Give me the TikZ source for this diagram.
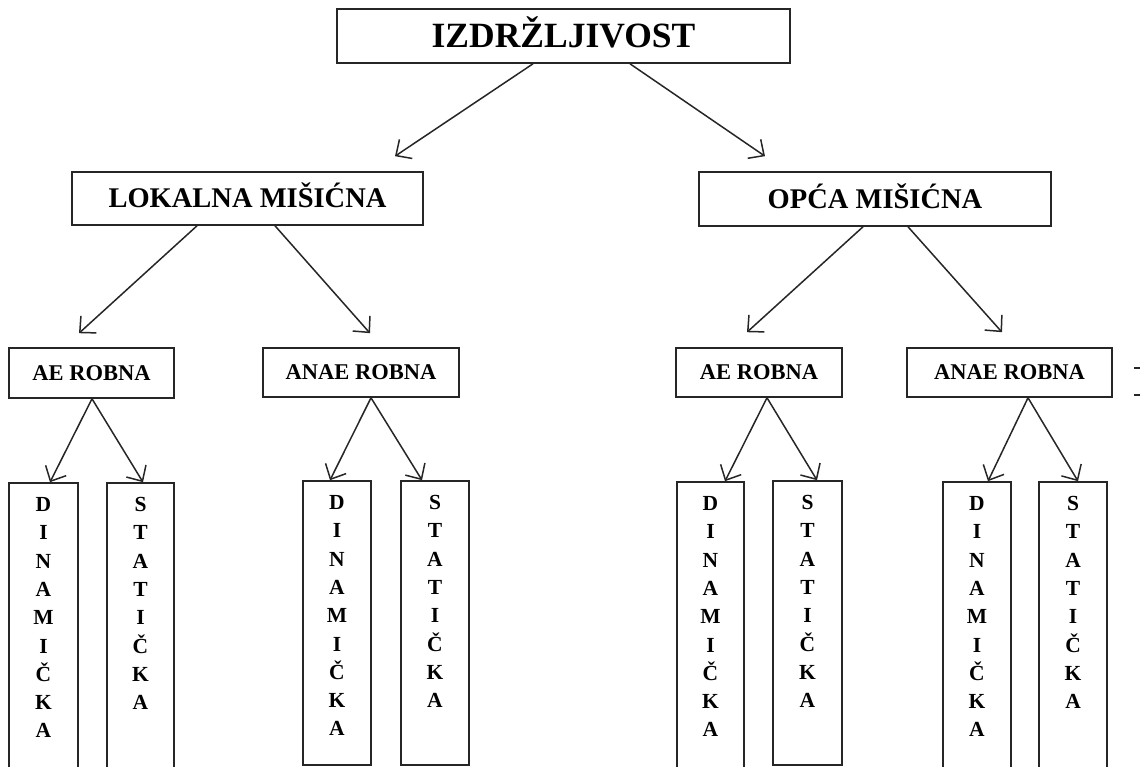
\documentclass[tikz,border=0pt]{standalone}
\usepackage{fontspec}
\setmainfont{Liberation Serif}
\usetikzlibrary{arrows.meta}
\newcommand\vcol[2]{\parbox[c][#1][t]{60pt}{\centering\fontsize{21.5}{28.3}\selectfont\bfseries\rule{0pt}{28.5pt}#2}}
\begin{document}
\begin{tikzpicture}[x=1pt,y=-1pt,
  box/.style={draw=black!85, line width=1.6pt, inner sep=0pt, text depth=0pt},
  bigf/.style={font=\fontsize{35.5}{40}\selectfont\bfseries, text height=23.5pt},
  midf/.style={font=\fontsize{28.5}{32}\selectfont\bfseries, text height=18.9pt},
  smlf/.style={font=\fontsize{22.5}{26}\selectfont\bfseries, text height=14.9pt},
  vbox/.style={draw=black!85, line width=1.6pt, inner sep=0pt},
  arr/.style={-{Straight Barb[length=12pt,width=23pt,line width=1.5pt]}, line width=1.5pt, draw=black!85},
  edgetick/.style={line width=1.4pt, draw=black!85}
]
\useasboundingbox (0,0) rectangle (1140,767);

\node[box,bigf,minimum width=453pt,minimum height=54pt] (top) at (563.5,36) {IZDRŽLJIVOST};
\node[box,midf,minimum width=351pt,minimum height=53pt] (lok) at (247.5,198.5) {LOKALNA MIŠIĆNA};
\node[box,midf,minimum width=352pt,minimum height=54pt] (opc) at (875,199) {OPĆA MIŠIĆNA};

\node[box,smlf,minimum width=165pt,minimum height=50pt] (ae1) at (91.5,373) {AE ROBNA};
\node[box,smlf,minimum width=196pt,minimum height=49pt] (an1) at (361,372.5) {ANAE ROBNA};
\node[box,smlf,minimum width=166pt,minimum height=49pt] (ae2) at (759,372.5) {AE ROBNA};
\node[box,smlf,minimum width=205pt,minimum height=49pt] (an2) at (1009.5,372.5) {ANAE ROBNA};

\node[vbox,minimum width=69pt] (d1) at (43.5,626) {\vcol{286pt}{D\\I\\N\\A\\M\\I\\Č\\K\\A}};
\node[vbox,minimum width=67pt] (s1) at (140.5,626) {\vcol{286pt}{S\\T\\A\\T\\I\\Č\\K\\A}};
\node[vbox,minimum width=68pt] (d2) at (337,623) {\vcol{284pt}{D\\I\\N\\A\\M\\I\\Č\\K\\A}};
\node[vbox,minimum width=68pt] (s2) at (435,623) {\vcol{284pt}{S\\T\\A\\T\\I\\Č\\K\\A}};
\node[vbox,minimum width=67pt] (d3) at (710.5,625.5) {\vcol{287pt}{D\\I\\N\\A\\M\\I\\Č\\K\\A}};
\node[vbox,minimum width=69pt] (s3) at (807.5,623) {\vcol{284pt}{S\\T\\A\\T\\I\\Č\\K\\A}};
\node[vbox,minimum width=68pt] (d4) at (977,625.5) {\vcol{287pt}{D\\I\\N\\A\\M\\I\\Č\\K\\A}};
\node[vbox,minimum width=68pt] (s4) at (1073,625.5) {\vcol{287pt}{S\\T\\A\\T\\I\\Č\\K\\A}};

\draw[arr] ([xshift=-30.5pt]top.south) -- ([xshift=147.5pt,yshift=15pt]lok.north);
\draw[arr] ([xshift=66.5pt]top.south) -- ([xshift=-110pt,yshift=15pt]opc.north);
\draw[arr] ([xshift=-50.5pt]lok.south) -- ([xshift=-12.5pt,yshift=14pt]ae1.north);
\draw[arr] ([xshift=27.5pt]lok.south) -- ([xshift=9pt,yshift=14pt]an1.north);
\draw[arr] ([xshift=-12pt]opc.south) -- ([xshift=-12pt,yshift=15pt]ae2.north);
\draw[arr] ([xshift=33pt]opc.south) -- ([xshift=-7.5pt,yshift=15pt]an2.north);
\draw[arr] ([xshift=0.5pt]ae1.south) -- ([xshift=6.5pt]d1.north);
\draw[arr] ([xshift=0.5pt]ae1.south) -- ([xshift=2.5pt]s1.north);
\draw[arr] ([xshift=10pt]an1.south) -- ([xshift=-7pt]d2.north);
\draw[arr] ([xshift=10pt]an1.south) -- ([xshift=-13pt]s2.north);
\draw[arr] ([xshift=8pt]ae2.south) -- ([xshift=14.5pt]d3.north);
\draw[arr] ([xshift=8pt]ae2.south) -- ([xshift=9.5pt]s3.north);
\draw[arr] ([xshift=18.5pt]an2.south) -- ([xshift=11pt]d4.north);
\draw[arr] ([xshift=18.5pt]an2.south) -- ([xshift=5pt]s4.north);

\coordinate (m1) at (1134,368);
\coordinate (m2) at (1134,395);
\draw[edgetick] (m1) -- ++(8,0);
\draw[edgetick] (m2) -- ++(8,0);
\end{tikzpicture}
\end{document}
